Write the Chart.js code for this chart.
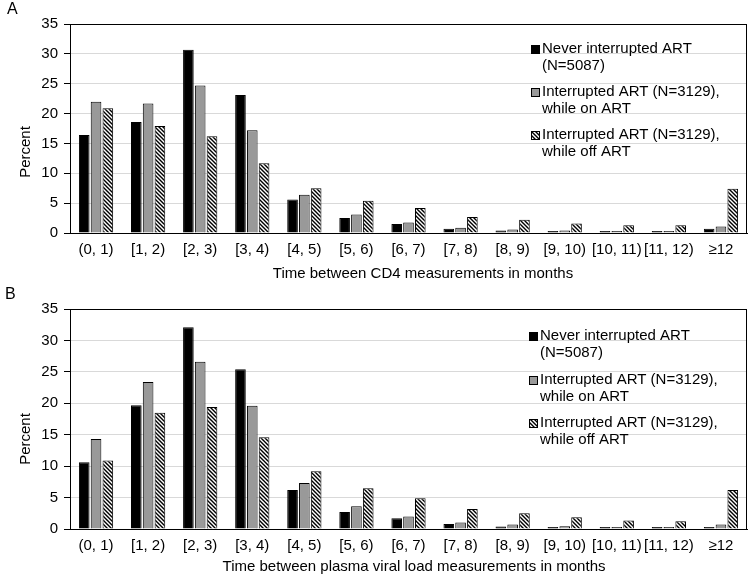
<!DOCTYPE html>
<html><head><meta charset="utf-8">
<script src="https://cdn.jsdelivr.net/npm/chart.js@4.4.1/dist/chart.umd.min.js"></script>
<style>
html,body{margin:0;padding:0;background:#fff;}
#wrap{position:relative;width:751px;height:576px;overflow:hidden;font-family:'Liberation Sans',Arial,sans-serif;color:#000;}
canvas{position:absolute;left:0;}
.t{position:absolute;white-space:nowrap;font-size:15px;line-height:18px;transform:translate(-50%,-50%);}
.p{position:absolute;font-size:16px;line-height:18px;}
.yt{position:absolute;white-space:nowrap;font-size:15px;line-height:18px;transform:translate(-50%,-50%) rotate(-90deg);}
</style></head><body>
<div id="wrap">
<canvas id="cA" width="751" height="285" style="top:0"></canvas>
<canvas id="cB" width="751" height="291" style="top:285px"></canvas>
<div class="p" style="left:7px;top:0px">A</div>
<div class="p" style="left:5px;top:285px">B</div>
<div class="yt" style="left:25px;top:152px">Percent</div>
<div class="yt" style="left:25px;top:439px">Percent</div>
<div class="t" style="left:423px;top:273px">Time between CD4 measurements in months</div>
<div class="t" style="left:414px;top:566px">Time between plasma viral load measurements in months</div>
</div>
<script>
// ---- data ----
const categories = ['(0, 1)','[1, 2)','[2, 3)','[3, 4)','[4, 5)','[5, 6)','[6, 7)','[7, 8)','[8, 9)','[9, 10)','[10, 11)','[11, 12)','\u226512'];
const seriesNames = ['Never interrupted ART (N=5087)','Interrupted ART (N=3129), while on ART','Interrupted ART (N=3129), while off ART'];
const legendLines = [['Never interrupted ART','(N=5087)'],['Interrupted ART (N=3129),','while on ART'],['Interrupted ART (N=3129),','while off ART']];
const cd4Never = [16.4, 18.6, 30.7, 23.1, 5.6, 2.5, 1.5, 0.7, 0.4, 0.23, 0.17, 0.1, 0.7];
const cd4On    = [22.0, 21.7, 24.7, 17.2, 6.4, 3.1, 1.75, 0.9, 0.57, 0.4, 0.3, 0.3, 1.1];
const cd4Off   = [20.9, 17.9, 16.2, 11.7, 7.5, 5.4, 4.2, 2.7, 2.2, 1.6, 1.3, 1.3, 7.4];
const vlNever  = [10.6, 19.7, 32.1, 25.4, 6.2, 2.7, 1.7, 0.8, 0.4, 0.3, 0.25, 0.2, 0.3];
const vlOn     = [14.3, 23.4, 26.6, 19.6, 7.3, 3.6, 2.0, 1.05, 0.7, 0.45, 0.3, 0.25, 0.7];
const vlOff    = [10.9, 18.5, 19.4, 14.6, 9.2, 6.5, 4.9, 3.2, 2.5, 1.85, 1.35, 1.25, 6.2];
const yMin = 0, yMax = 35, yStep = 5;

Chart.defaults.font.family = "'Liberation Sans', Arial, sans-serif";
Chart.defaults.font.size = 15;
Chart.defaults.color = '#000';

function hatch(){
  const s = 4, c = document.createElement('canvas');
  c.width = s; c.height = s;
  const g = c.getContext('2d');
  g.fillStyle = '#fff'; g.fillRect(0,0,s,s);
  g.strokeStyle = '#000'; g.lineWidth = 1.4;
  g.beginPath();
  g.moveTo(-1,-1); g.lineTo(s+1,s+1);
  g.moveTo(-1,s-1); g.lineTo(1,s+1);
  g.moveTo(s-1,-1); g.lineTo(s+1,1);
  g.stroke();
  return g.createPattern(c,'repeat');
}
const fills = ['#000000','#999999', null];

const boxPlugin = {
  id:'boxBorder',
  afterDraw(chart){
    const a = chart.chartArea, ctx = chart.ctx;
    ctx.save();
    ctx.strokeStyle = '#000'; ctx.lineWidth = 1;
    ctx.strokeRect(Math.round(a.left)+0.5, Math.round(a.top)+0.5, Math.round(a.right-a.left)-1, Math.round(a.bottom-a.top));
    ctx.restore();
  }
};
const legendPlugin = {
  id:'boxLegend',
  afterDraw(chart, args, opts){
    const a = chart.chartArea, ctx = chart.ctx;
    ctx.save();
    ctx.font = "15px 'Liberation Sans', Arial, sans-serif";
    ctx.textBaseline = 'middle'; ctx.textAlign = 'left'; ctx.fillStyle = '#000';
    chart.data.datasets.forEach((ds, i) => {
      const y = a.top + opts.y0 + i*opts.itemGap;
      const sx = opts.x;
      ctx.fillStyle = ds.backgroundColor;
      ctx.fillRect(sx, Math.round(y-4), 9, 9);
      ctx.strokeStyle = '#000'; ctx.lineWidth = 1;
      ctx.strokeRect(sx+0.5, Math.round(y-4)+0.5, 8, 8);
      ctx.fillStyle = '#000';
      legendLines[i].forEach((t, j) => ctx.fillText(t, opts.tx, y + j*opts.lineGap));
    });
    ctx.restore();
  }
};

function makeChart(id, vals, axisH, leg){
  const pat = hatch();
  const ctx = document.getElementById(id).getContext('2d');
  return new Chart(ctx, {
    type:'bar',
    data:{
      labels: categories,
      datasets: vals.map((v,i)=>({
        label: seriesNames[i], data: v,
        backgroundColor: fills[i] || pat,
        borderColor:'#000', borderWidth:1,
        minBarLength:2,
        categoryPercentage:0.68, barPercentage:0.9
      }))
    },
    options:{
      responsive:false, animation:false,
      layout:{padding:{left:0,right:4,top:24,bottom:0}},
      plugins:{legend:{display:false}, tooltip:{enabled:false}, boxLegend: leg},
      scales:{
        x:{
          grid:{display:false, drawTicks:false},
          border:{display:true,color:'#000',width:1},
          ticks:{padding:8, maxRotation:0, minRotation:0, autoSkip:false, font:{size:15}},
          afterFit(s){ s.height = axisH; }
        },
        y:{
          min:yMin, max:yMax,
          grid:{color:'#d9d9d9', lineWidth:1, tickColor:'#000', tickLength:6, drawTicks:true},
          border:{display:true,color:'#000',width:1},
          ticks:{stepSize:yStep, padding:6, font:{size:15}},
          afterFit(s){ s.width = 70; }
        }
      }
    },
    plugins:[boxPlugin, legendPlugin]
  });
}
makeChart('cA', [cd4Never, cd4On, cd4Off], 52, {x:531, tx:542, y0:25, itemGap:43, lineGap:17});
makeChart('cB', [vlNever, vlOn, vlOff], 47, {x:529, tx:540, y0:27, itemGap:43.5, lineGap:17});
</script>
</body></html>
